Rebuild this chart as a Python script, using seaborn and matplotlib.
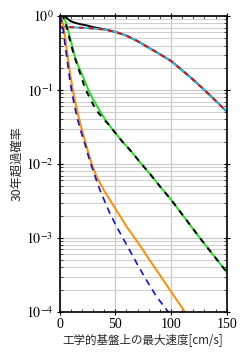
import matplotlib
matplotlib.use("Agg")
import matplotlib.pyplot as plt
import matplotlib.ticker as mticker
import seaborn as sns
import numpy as np

sns.set_theme(style="ticks")
plt.rcParams['font.family'] = ['Noto Sans CJK JP', 'DejaVu Sans']
plt.rcParams['mathtext.fontset'] = 'stix'

# Values are read as log10(probability)
# Series A: black solid (upper)
a_x = [0, 2, 5, 8, 10, 14, 20, 25, 30, 35, 40, 50, 60, 70, 80, 90, 100, 110, 120, 130, 140, 150]
a_log = [0, 0, -0.009, -0.046, -0.068, -0.092, -0.114, -0.128, -0.149, -0.164, -0.178, -0.213, -0.264, -0.339, -0.427, -0.515, -0.606, -0.732, -0.861, -0.999, -1.143, -1.29]
# Series B: cyan solid + red dashed (upper)
b_x = [0, 10, 20, 30, 40, 50, 60, 70, 80, 90, 100, 110, 120, 130, 140, 150]
b_log = [-0.143, -0.149, -0.158, -0.168, -0.182, -0.213, -0.264, -0.339, -0.427, -0.515, -0.606, -0.732, -0.861, -0.999, -1.143, -1.29]
# Series C: green solid
c_x = [0, 3.4, 5, 8, 9.4, 11, 14, 17, 20, 23, 26, 30, 35, 41, 48, 56, 65, 73, 81, 90, 100, 113, 126, 138, 150]
c_log = [0, 0, -0.055, -0.2, -0.29, -0.38, -0.56, -0.68, -0.78, -0.89, -1.0, -1.12, -1.25, -1.40, -1.54, -1.69, -1.84, -1.99, -2.13, -2.30, -2.48, -2.74, -3.0, -3.23, -3.46]
# Series D: black dashed (with green)
d_x = [0, 2, 4, 6.5, 9.4, 12.4, 15.4, 18.4, 23, 27, 30.3, 35, 40, 45, 48, 56, 65, 73, 81, 90, 100, 113, 126, 138, 150]
d_log = [0, 0, -0.03, -0.15, -0.33, -0.5, -0.64, -0.77, -0.98, -1.1, -1.2, -1.31, -1.40, -1.48, -1.54, -1.69, -1.84, -1.99, -2.13, -2.30, -2.48, -2.74, -3.0, -3.23, -3.46]
# Series E: orange solid
e_x = [0, 2, 4, 6, 8, 10, 12, 14, 17, 20, 25, 29, 33, 40, 48, 60, 74, 81, 90, 99, 112.6, 118]
e_log = [0, -0.03, -0.17, -0.40, -0.62, -0.82, -1.0, -1.15, -1.35, -1.53, -1.80, -2.0, -2.16, -2.36, -2.55, -2.84, -3.14, -3.30, -3.50, -3.70, -4.0, -4.12]
# Series F: blue dashed
f_x = [0, 1, 2, 3.4, 5, 6.5, 8, 9.4, 11, 12.4, 15.4, 19, 23, 27, 32, 36, 41, 45, 50, 55, 62, 70, 77, 87, 97.6, 102]
f_log = [0, -0.02, -0.08, -0.2, -0.40, -0.55, -0.72, -0.88, -1.02, -1.135, -1.35, -1.55, -1.74, -1.95, -2.17, -2.34, -2.52, -2.66, -2.81, -2.95, -3.14, -3.36, -3.545, -3.79, -4.0, -4.1]

x_ticks = [0, 50, 100, 150]
x_ticklabels = ["0", "50", "100", "150"]
y_ticks = [1e-4, 1e-3, 1e-2, 1e-1, 1e0]
y_ticklabels = [r"$10^{-4}$", r"$10^{-3}$", r"$10^{-2}$", r"$10^{-1}$", r"$10^{0}$"]


def prob(vals):
    return np.power(10.0, np.asarray(vals, dtype=float))


fig = plt.figure(figsize=(2.46, 3.57), dpi=100)
ax = fig.add_axes([0.242, 0.126, 0.6795, 0.829])

lw = 1.4
kw = dict(ax=ax, estimator=None, sort=False)
sns.lineplot(x=a_x, y=prob(a_log), color="black", lw=lw, **kw)
sns.lineplot(x=b_x, y=prob(b_log), color="#20c0f0", lw=lw, **kw)
sns.lineplot(x=b_x, y=prob(b_log), color="#e01010", lw=lw, linestyle=(0, (2.5, 2.5)), **kw)
sns.lineplot(x=c_x, y=prob(c_log), color="#20e020", lw=lw, **kw)
sns.lineplot(x=d_x, y=prob(d_log), color="black", lw=lw, linestyle=(0, (3, 3)), **kw)
sns.lineplot(x=e_x, y=prob(e_log), color="#ff8c00", lw=lw, **kw)
sns.lineplot(x=f_x, y=prob(f_log), color="#1010e0", lw=1.2, linestyle=(0, (4, 3)), **kw)

ax.set_yscale("log")
ax.set_xlim(0, 150)
ax.set_ylim(1e-4, 1)
ax.set_xticks(x_ticks)
ax.set_xticklabels(x_ticklabels, fontfamily="Liberation Serif", fontsize=10)
ax.set_yticks(y_ticks)
ax.set_yticklabels(y_ticklabels, fontsize=10)
ax.xaxis.set_minor_locator(mticker.MultipleLocator(10))
ax.yaxis.set_minor_locator(mticker.LogLocator(base=10, subs=np.arange(2, 10)))
ax.yaxis.set_minor_formatter(mticker.NullFormatter())

ax.grid(True, which="major", axis="both", color="#c8c8c8", lw=0.9)
ax.grid(True, which="minor", axis="y", color="#d0d0d0", lw=0.8)
ax.set_axisbelow(True)

ax.tick_params(which="major", direction="inout", length=5, width=0.8, top=True, right=True, pad=2, colors="black")
ax.tick_params(which="minor", direction="in", length=2.5, width=0.6, top=True, right=True)
for s in ax.spines.values():
    s.set_color("black")
    s.set_linewidth(1.2)

ax.set_xlabel("工学的基盤上の最大速度[cm/s]", fontsize=8.3, labelpad=1)
ax.set_ylabel("30年超過確率", fontsize=8.8, labelpad=2)

fig.savefig("out.png", dpi=100, facecolor="white")
